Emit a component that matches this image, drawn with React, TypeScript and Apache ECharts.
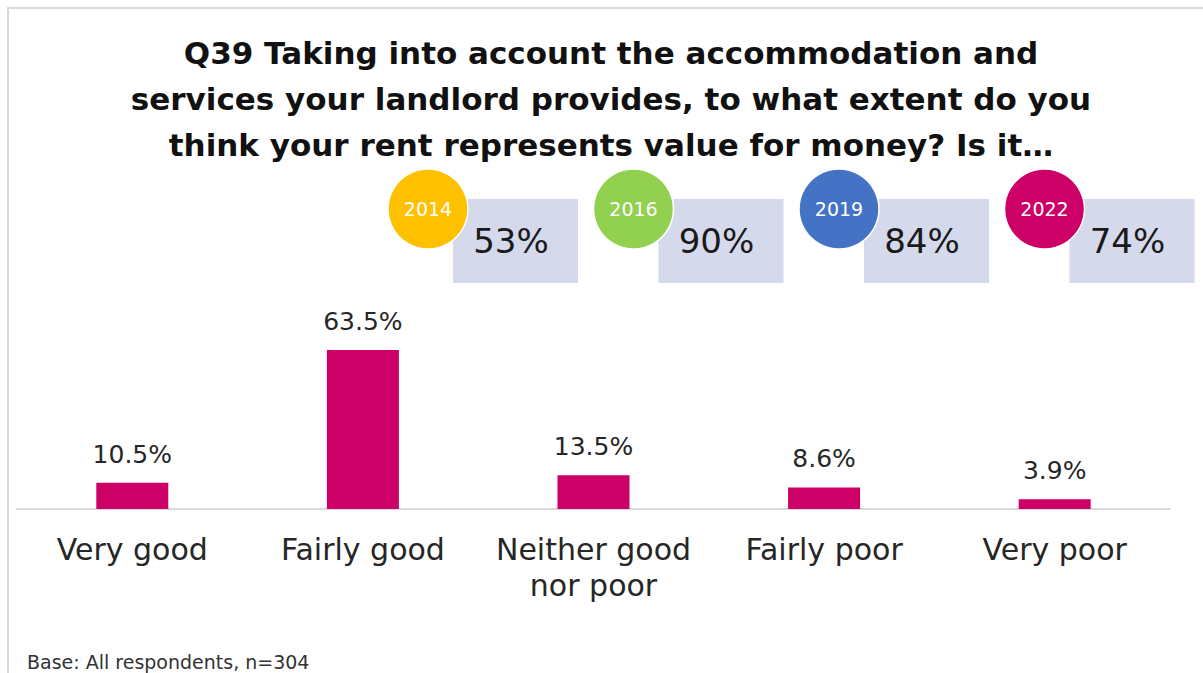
import React, { useEffect, useRef } from "react";
import * as echarts from "echarts";

const titleLines = [
  "Q39 Taking into account the accommodation and",
  "services your landlord provides, to what extent do you",
  "think your rent represents value for money? Is it…",
];
const categories = ["Very good", "Fairly good", "Neither good\nnor poor", "Fairly poor", "Very poor"];
const values = [10.5, 63.5, 13.5, 8.6, 3.9];
const years = ["2014", "2016", "2019", "2022"];
const yearScores = [53, 90, 84, 74];
const yearColors = ["#FFC000", "#92D050", "#4472C4", "#CC0066"];
const baseNote = "Base: All respondents, n=304";

const FONT = "DejaVu Sans";

export default function App() {
  const ref = useRef<HTMLDivElement>(null);
  useEffect(() => {
    document.body.style.margin = "0";
    const chart = echarts.init(ref.current!, null, { renderer: "svg" });

    const badges: any[] = [];
    const rectLeft0 = 453;
    const step = 205.5;
    years.forEach((y, i) => {
      const rx = rectLeft0 + i * step;
      badges.push({
        type: "rect",
        shape: { x: rx, y: 199, width: 125, height: 84 },
        style: { fill: "#D4D9EB" },
        z: 10,
      });
      badges.push({
        type: "text",
        x: rx + 58,
        y: 241,
        style: {
          text: yearScores[i] + "%",
          font: `normal 34px "${FONT}"`,
          fill: "#1a1a1a",
          textAlign: "center",
          textVerticalAlign: "middle",
        },
        z: 11,
      });
      badges.push({
        type: "circle",
        shape: { cx: rx - 25, cy: 209, r: 40 },
        style: { fill: yearColors[i], stroke: "#ffffff", lineWidth: 1.5 },
        z: 12,
      });
      badges.push({
        type: "text",
        x: rx - 25,
        y: 209,
        style: {
          text: y,
          font: `normal 19px "${FONT}"`,
          fill: "#ffffff",
          textAlign: "center",
          textVerticalAlign: "middle",
        },
        z: 13,
      });
    });

    chart.setOption({
      animation: false,
      backgroundColor: "#ffffff",
      title: {
        text: titleLines.join("\n"),
        left: 606,
        top: 25,
        textAlign: "center",
        textStyle: {
          fontFamily: FONT,
          fontSize: 31,
          fontWeight: "bold",
          color: "#111111",
          lineHeight: 46,
        },
      },
      grid: { left: 17, right: 33, top: 258.6, bottom: 164, containLabel: false },
      xAxis: {
        type: "category",
        data: categories,
        axisLine: { show: true, lineStyle: { color: "#d9d9d9", width: 2 } },
        axisTick: { show: false },
        axisLabel: {
          fontFamily: FONT,
          fontSize: 30,
          color: "#262626",
          lineHeight: 36,
          margin: 22,
          interval: 0,
        },
      },
      yAxis: { type: "value", min: 0, max: 100, show: false, splitLine: { show: false } },
      series: [
        {
          type: "bar",
          data: values,
          barWidth: 72,
          itemStyle: { color: "#CC0066" },
          label: {
            show: true,
            position: "top",
            distance: 16,
            fontFamily: FONT,
            fontSize: 25,
            color: "#262626",
            formatter: (p: any) => Number(p.value).toFixed(1) + "%",
          },
        },
      ],
      graphic: [
        { type: "line", shape: { x1: 7, y1: 8, x2: 1203, y2: 8 }, style: { stroke: "#d9d9d9", lineWidth: 2 } },
        { type: "line", shape: { x1: 8, y1: 7, x2: 8, y2: 673 }, style: { stroke: "#d9d9d9", lineWidth: 2 } },
        ...badges,
        {
          type: "text",
          x: 27,
          y: 662,
          style: {
            text: baseNote,
            font: `normal 19px "${FONT}"`,
            fill: "#333333",
            textVerticalAlign: "middle",
          },
        },
      ],
    });
    return () => chart.dispose();
  }, []);
  return <div ref={ref} style={{ width: 1203, height: 673 }} />;
}
